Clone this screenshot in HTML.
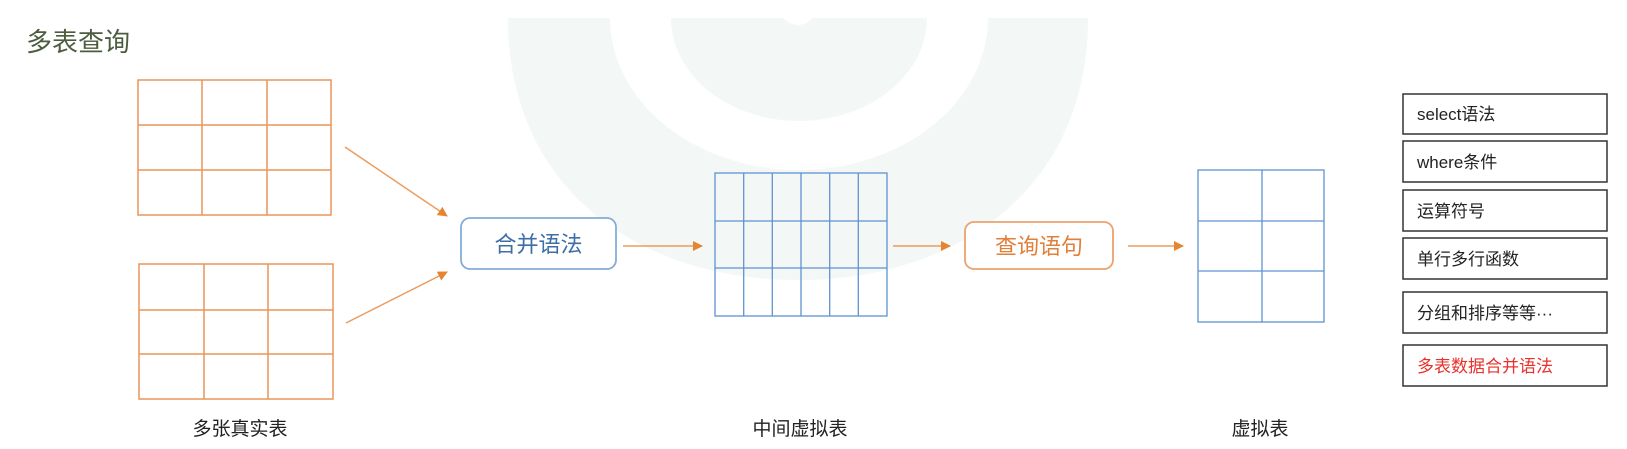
<!DOCTYPE html>
<html><head><meta charset="utf-8"><style>
html,body{margin:0;padding:0;background:#fff;}
body{width:1627px;height:449px;overflow:hidden;position:relative;font-family:"Liberation Sans","Noto Sans CJK SC",sans-serif;}
svg{position:absolute;left:0;top:0;}
svg text{font-family:"Liberation Sans","Noto Sans CJK SC",sans-serif;}
</style></head><body>
<svg width="1627" height="449" viewBox="0 0 1627 449">
<defs>
<clipPath id="c"><rect x="0" y="18" width="1627" height="431"/></clipPath>
<marker id="a" markerWidth="10" markerHeight="10" refX="9" refY="5" orient="auto" markerUnits="userSpaceOnUse"><path d="M0,0 L10,5 L0,10 z" fill="#e6842f"/></marker>
</defs>
<g clip-path="url(#c)">
<path d="M508,18 C508,190 640,280 798,280 C956,280 1088,190 1088,18 Z" fill="#f3f7f5"/>
<ellipse cx="799" cy="18" rx="189" ry="152" fill="#fff"/>
<ellipse cx="799" cy="18" rx="128" ry="103" fill="#f3f7f5"/>
<circle cx="798" cy="6" r="19" fill="#fff"/>
</g>
<text x="26" y="51" font-size="26" fill="#4d5c3f">多表查询</text>
<g stroke="#e8955a" stroke-width="1.5" fill="none">
<rect x="138" y="80" width="193" height="135"/>
<line x1="202" y1="80" x2="202" y2="215"/><line x1="267" y1="80" x2="267" y2="215"/>
<line x1="138" y1="125" x2="331" y2="125"/><line x1="138" y1="170" x2="331" y2="170"/>
<rect x="139" y="264" width="194" height="135"/>
<line x1="204" y1="264" x2="204" y2="399"/><line x1="268" y1="264" x2="268" y2="399"/>
<line x1="139" y1="310" x2="333" y2="310"/><line x1="139" y1="354" x2="333" y2="354"/>
</g>
<g stroke="#eb9b5e" stroke-width="1.5" fill="none">
<line x1="345" y1="147" x2="447" y2="216" marker-end="url(#a)"/>
<line x1="346" y1="323" x2="447" y2="272" marker-end="url(#a)"/>
<line x1="623" y1="246" x2="702" y2="246" marker-end="url(#a)"/>
<line x1="893" y1="246" x2="950" y2="246" marker-end="url(#a)"/>
<line x1="1128" y1="246" x2="1183" y2="246" marker-end="url(#a)"/>
</g>
<rect x="461" y="218" width="155" height="51" rx="9" fill="#fff" stroke="#85acd8" stroke-width="1.8"/>
<text x="538.5" y="252" font-size="22" fill="#3e6ea6" text-anchor="middle">合并语法</text>
<rect x="965" y="222" width="148" height="47" rx="9" fill="#fff" stroke="#eba26c" stroke-width="1.8"/>
<text x="1039" y="254" font-size="22" fill="#e0803a" text-anchor="middle">查询语句</text>
<g stroke="#5e93d3" stroke-width="1.3" fill="none">
<rect x="715" y="173" width="172" height="143"/>
<line x1="743.7" y1="173" x2="743.7" y2="316"/><line x1="772.3" y1="173" x2="772.3" y2="316"/>
<line x1="801" y1="173" x2="801" y2="316"/><line x1="829.7" y1="173" x2="829.7" y2="316"/>
<line x1="858.3" y1="173" x2="858.3" y2="316"/>
<line x1="715" y1="221" x2="887" y2="221"/><line x1="715" y1="268" x2="887" y2="268"/>
<rect x="1198" y="170" width="126" height="152"/>
<line x1="1262" y1="170" x2="1262" y2="322"/>
<line x1="1198" y1="221" x2="1324" y2="221"/><line x1="1198" y1="271" x2="1324" y2="271"/>
</g>
<g font-size="19" fill="#222" text-anchor="middle">
<text x="240" y="435">多张真实表</text>
<text x="800" y="435">中间虚拟表</text>
<text x="1260" y="435">虚拟表</text>
</g>
<g fill="#fff" stroke="#333" stroke-width="1.5">
<rect x="1403" y="94" width="204" height="40"/>
<rect x="1403" y="141" width="204" height="41"/>
<rect x="1403" y="190" width="204" height="41"/>
<rect x="1403" y="238" width="204" height="41"/>
<rect x="1403" y="292" width="204" height="41"/>
<rect x="1403" y="345" width="204" height="41"/>
</g>
<g font-size="17" fill="#222">
<text x="1417" y="120">select语法</text>
<text x="1417" y="168">where条件</text>
<text x="1417" y="217">运算符号</text>
<text x="1417" y="265">单行多行函数</text>
<text x="1417" y="319">分组和排序等等···</text>
<text x="1417" y="372" fill="#e8302c">多表数据合并语法</text>
</g>
</svg>
</body></html>
